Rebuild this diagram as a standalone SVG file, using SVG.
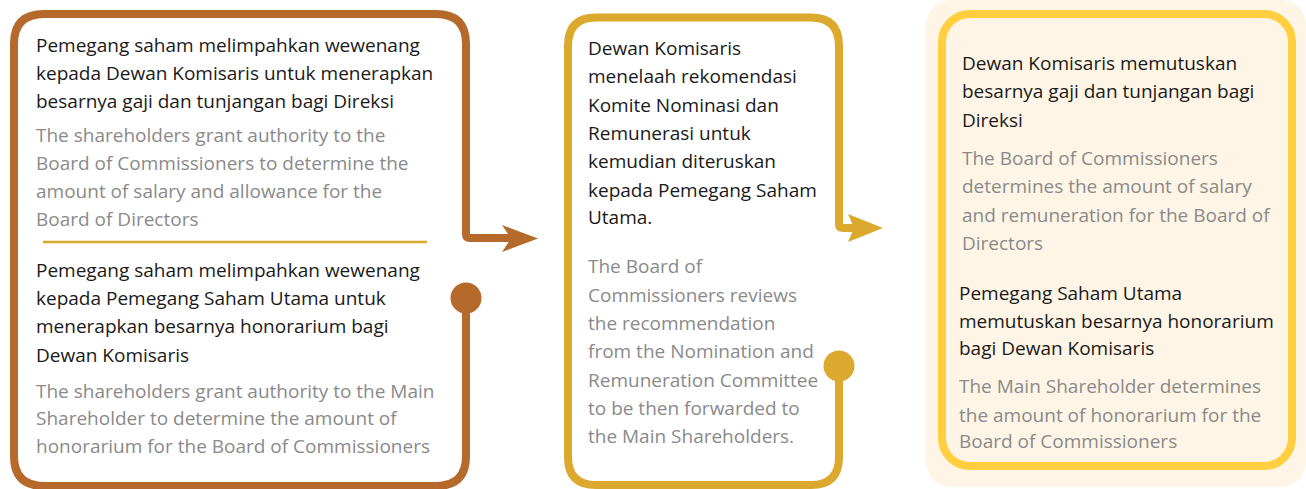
<svg xmlns="http://www.w3.org/2000/svg" width="1306" height="489" viewBox="0 0 1306 489">
<style>
text{font-family:"Open Sans","Noto Sans","Liberation Sans",sans-serif;font-size:19px}
.k{fill:#1a1a1a}
.g{fill:#8a8a8a}
.br{fill:none;stroke:#b5692a;stroke-width:8;stroke-linejoin:round}
.gd{fill:none;stroke:#dba92e;stroke-width:8;stroke-linejoin:round}
</style>
<rect width="1306" height="489" fill="#ffffff"/>
<g id="node-1">
<path class="br" d="M466 298 V456 Q466 486 436 486 H44 Q14 486 14 456 V44 Q14 14 44 14 H436 Q466 14 466 44 V234 Q466 238 470 238 H512"/>
<polygon points="502,225 538,238.5 502,252 511,238.5" fill="#b5692a"/>
<circle cx="466" cy="298" r="15.5" fill="#b5692a"/>
<line x1="43" y1="242" x2="427" y2="242" stroke="#dba92e" stroke-width="2.5"/>
<text class="k" x="36"><tspan x="36" y="52">Pemegang saham melimpahkan wewenang</tspan><tspan x="36" y="80">kepada Dewan Komisaris untuk menerapkan</tspan><tspan x="36" y="108">besarnya gaji dan tunjangan bagi Direksi</tspan></text>
<text class="g"><tspan x="36" y="142">The shareholders grant authority to the</tspan><tspan x="36" y="170">Board of Commissioners to determine the</tspan><tspan x="36" y="198">amount of salary and allowance for the</tspan><tspan x="36" y="226">Board of Directors</tspan></text>
<text class="k"><tspan x="36" y="277">Pemegang saham melimpahkan wewenang</tspan><tspan x="36" y="305">kepada Pemegang Saham Utama untuk</tspan><tspan x="36" y="333">menerapkan besarnya honorarium bagi</tspan><tspan x="36" y="362">Dewan Komisaris</tspan></text>
<text class="g"><tspan x="36" y="398">The shareholders grant authority to the Main</tspan><tspan x="36" y="425">Shareholder to determine the amount of</tspan><tspan x="36" y="453">honorarium for the Board of Commissioners</tspan></text>
</g>
<g id="node-2">
<path class="gd" d="M839 366 V457 Q839 485 811 485 H596 Q568 485 568 457 V46 Q568 17.5 596 17.5 H811 Q839 17.5 839 46 V224 Q839 228 843 228 H856"/>
<polygon points="848,214 883,228 848,242 854,228" fill="#dba92e"/>
<circle cx="839" cy="366" r="15.5" fill="#dba92e"/>
<text class="k"><tspan x="588" y="55">Dewan Komisaris</tspan><tspan x="588" y="83">menelaah rekomendasi</tspan><tspan x="588" y="112">Komite Nominasi dan</tspan><tspan x="588" y="140">Remunerasi untuk</tspan><tspan x="588" y="168">kemudian diteruskan</tspan><tspan x="588" y="197">kepada Pemegang Saham</tspan><tspan x="588" y="224">Utama.</tspan></text>
<text class="g"><tspan x="588" y="273">The Board of</tspan><tspan x="588" y="302">Commissioners reviews</tspan><tspan x="588" y="330">the recommendation</tspan><tspan x="588" y="358">from the Nomination and</tspan><tspan x="588" y="387">Remuneration Committee</tspan><tspan x="588" y="415">to be then forwarded to</tspan><tspan x="588" y="443">the Main Shareholders.</tspan></text>
</g>
<g id="node-3">
<rect x="926" y="0" width="380" height="487" rx="25" fill="#fef5e6"/>
<rect x="942" y="14" width="350" height="452" rx="28" fill="#fef5e6" stroke="#ffcf3f" stroke-width="8"/>
<text class="k"><tspan x="962" y="70">Dewan Komisaris memutuskan</tspan><tspan x="962" y="98">besarnya gaji dan tunjangan bagi</tspan><tspan x="962" y="127">Direksi</tspan></text>
<text class="g"><tspan x="962" y="165">The Board of Commissioners</tspan><tspan x="962" y="193">determines the amount of salary</tspan><tspan x="962" y="222">and remuneration for the Board of</tspan><tspan x="962" y="250">Directors</tspan></text>
<text class="k"><tspan x="959" y="300">Pemegang Saham Utama</tspan><tspan x="959" y="328">memutuskan besarnya honorarium</tspan><tspan x="959" y="355">bagi Dewan Komisaris</tspan></text>
<text class="g"><tspan x="959" y="393">The Main Shareholder determines</tspan><tspan x="959" y="422">the amount of honorarium for the</tspan><tspan x="959" y="448">Board of Commissioners</tspan></text>
</g>
<g id="connectors"></g>
</svg>
